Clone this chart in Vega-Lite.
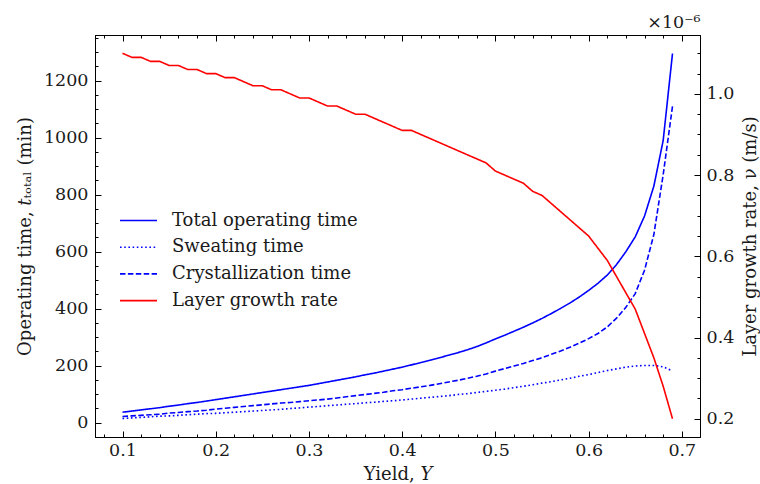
{
  "$schema": "https://vega.github.io/schema/vega-lite/v6.json",
  "width": 605,
  "height": 402,
  "autosize": "none",
  "padding": {"left": 95, "top": 35, "right": 60, "bottom": 47},
  "background": "white",
  "config": {
    "font": "DejaVu Serif",
    "view": {"stroke": "#000000", "strokeWidth": 1},
    "axis": {
      "domainColor": "#000000",
      "domainWidth": 1,
      "tickColor": "#000000",
      "tickWidth": 1,
      "grid": false,
      "labelFont": "DejaVu Serif",
      "labelFontSize": 17.5,
      "labelColor": "#1a1a1a",
      "titleFont": "DejaVu Serif",
      "titleFontSize": 18,
      "titleFontWeight": "normal",
      "titleColor": "#1a1a1a"
    },
    "legend": {"labelFont": "DejaVu Serif", "labelFontSize": 18, "labelColor": "#1a1a1a", "labelLimit": 400}
  },
  "datasets": {
    "times": [
      {"Y":0.10,"series":"Total operating time","t":37},{"Y":0.11,"series":"Total operating time","t":41},{"Y":0.12,"series":"Total operating time","t":45},{"Y":0.13,"series":"Total operating time","t":49},{"Y":0.14,"series":"Total operating time","t":53},{"Y":0.15,"series":"Total operating time","t":58},{"Y":0.16,"series":"Total operating time","t":62},{"Y":0.17,"series":"Total operating time","t":67},{"Y":0.18,"series":"Total operating time","t":71},{"Y":0.19,"series":"Total operating time","t":76},
      {"Y":0.20,"series":"Total operating time","t":81},{"Y":0.21,"series":"Total operating time","t":86},{"Y":0.22,"series":"Total operating time","t":91},{"Y":0.23,"series":"Total operating time","t":96},{"Y":0.24,"series":"Total operating time","t":101},{"Y":0.25,"series":"Total operating time","t":106},{"Y":0.26,"series":"Total operating time","t":111},{"Y":0.27,"series":"Total operating time","t":116},{"Y":0.28,"series":"Total operating time","t":121},{"Y":0.29,"series":"Total operating time","t":126},
      {"Y":0.30,"series":"Total operating time","t":131},{"Y":0.31,"series":"Total operating time","t":137},{"Y":0.32,"series":"Total operating time","t":143},{"Y":0.33,"series":"Total operating time","t":149},{"Y":0.34,"series":"Total operating time","t":155},{"Y":0.35,"series":"Total operating time","t":161},{"Y":0.36,"series":"Total operating time","t":168},{"Y":0.37,"series":"Total operating time","t":174},{"Y":0.38,"series":"Total operating time","t":181},{"Y":0.39,"series":"Total operating time","t":188},
      {"Y":0.40,"series":"Total operating time","t":195},{"Y":0.41,"series":"Total operating time","t":203},{"Y":0.42,"series":"Total operating time","t":211},{"Y":0.43,"series":"Total operating time","t":219},{"Y":0.44,"series":"Total operating time","t":228},{"Y":0.45,"series":"Total operating time","t":237},{"Y":0.46,"series":"Total operating time","t":246},{"Y":0.47,"series":"Total operating time","t":256},{"Y":0.48,"series":"Total operating time","t":267},{"Y":0.49,"series":"Total operating time","t":280},
      {"Y":0.50,"series":"Total operating time","t":294},{"Y":0.51,"series":"Total operating time","t":307},{"Y":0.52,"series":"Total operating time","t":321},{"Y":0.53,"series":"Total operating time","t":335},{"Y":0.54,"series":"Total operating time","t":350},{"Y":0.55,"series":"Total operating time","t":366},{"Y":0.56,"series":"Total operating time","t":383},{"Y":0.57,"series":"Total operating time","t":401},{"Y":0.58,"series":"Total operating time","t":420},{"Y":0.59,"series":"Total operating time","t":441},
      {"Y":0.60,"series":"Total operating time","t":464},{"Y":0.61,"series":"Total operating time","t":489},{"Y":0.62,"series":"Total operating time","t":518},{"Y":0.63,"series":"Total operating time","t":555},{"Y":0.64,"series":"Total operating time","t":600},{"Y":0.65,"series":"Total operating time","t":652},{"Y":0.66,"series":"Total operating time","t":725},{"Y":0.67,"series":"Total operating time","t":830},{"Y":0.68,"series":"Total operating time","t":990},{"Y":0.69,"series":"Total operating time","t":1295},
      {"Y":0.10,"series":"Sweating time","t":15},{"Y":0.11,"series":"Sweating time","t":17},{"Y":0.12,"series":"Sweating time","t":19},{"Y":0.13,"series":"Sweating time","t":21},{"Y":0.14,"series":"Sweating time","t":23},{"Y":0.15,"series":"Sweating time","t":24},{"Y":0.16,"series":"Sweating time","t":26},{"Y":0.17,"series":"Sweating time","t":28},{"Y":0.18,"series":"Sweating time","t":30},{"Y":0.19,"series":"Sweating time","t":32},
      {"Y":0.20,"series":"Sweating time","t":33},{"Y":0.21,"series":"Sweating time","t":35},{"Y":0.22,"series":"Sweating time","t":37},{"Y":0.23,"series":"Sweating time","t":39},{"Y":0.24,"series":"Sweating time","t":41},{"Y":0.25,"series":"Sweating time","t":43},{"Y":0.26,"series":"Sweating time","t":45},{"Y":0.27,"series":"Sweating time","t":47},{"Y":0.28,"series":"Sweating time","t":50},{"Y":0.29,"series":"Sweating time","t":52},
      {"Y":0.30,"series":"Sweating time","t":55},{"Y":0.31,"series":"Sweating time","t":57},{"Y":0.32,"series":"Sweating time","t":60},{"Y":0.33,"series":"Sweating time","t":62},{"Y":0.34,"series":"Sweating time","t":65},{"Y":0.35,"series":"Sweating time","t":67},{"Y":0.36,"series":"Sweating time","t":70},{"Y":0.37,"series":"Sweating time","t":72},{"Y":0.38,"series":"Sweating time","t":75},{"Y":0.39,"series":"Sweating time","t":77},
      {"Y":0.40,"series":"Sweating time","t":80},{"Y":0.41,"series":"Sweating time","t":83},{"Y":0.42,"series":"Sweating time","t":86},{"Y":0.43,"series":"Sweating time","t":89},{"Y":0.44,"series":"Sweating time","t":92},{"Y":0.45,"series":"Sweating time","t":95},{"Y":0.46,"series":"Sweating time","t":99},{"Y":0.47,"series":"Sweating time","t":102},{"Y":0.48,"series":"Sweating time","t":106},{"Y":0.49,"series":"Sweating time","t":110},
      {"Y":0.50,"series":"Sweating time","t":114},{"Y":0.51,"series":"Sweating time","t":118},{"Y":0.52,"series":"Sweating time","t":123},{"Y":0.53,"series":"Sweating time","t":128},{"Y":0.54,"series":"Sweating time","t":133},{"Y":0.55,"series":"Sweating time","t":139},{"Y":0.56,"series":"Sweating time","t":144},{"Y":0.57,"series":"Sweating time","t":150},{"Y":0.58,"series":"Sweating time","t":156},{"Y":0.59,"series":"Sweating time","t":163},
      {"Y":0.60,"series":"Sweating time","t":169},{"Y":0.61,"series":"Sweating time","t":176},{"Y":0.62,"series":"Sweating time","t":183},{"Y":0.63,"series":"Sweating time","t":189},{"Y":0.64,"series":"Sweating time","t":195},{"Y":0.65,"series":"Sweating time","t":199},{"Y":0.66,"series":"Sweating time","t":201},{"Y":0.67,"series":"Sweating time","t":201},{"Y":0.68,"series":"Sweating time","t":196},{"Y":0.69,"series":"Sweating time","t":182},
      {"Y":0.10,"series":"Crystallization time","t":22},{"Y":0.11,"series":"Crystallization time","t":24},{"Y":0.12,"series":"Crystallization time","t":26},{"Y":0.13,"series":"Crystallization time","t":28},{"Y":0.14,"series":"Crystallization time","t":30},{"Y":0.15,"series":"Crystallization time","t":34},{"Y":0.16,"series":"Crystallization time","t":36},{"Y":0.17,"series":"Crystallization time","t":39},{"Y":0.18,"series":"Crystallization time","t":41},{"Y":0.19,"series":"Crystallization time","t":44},
      {"Y":0.20,"series":"Crystallization time","t":48},{"Y":0.21,"series":"Crystallization time","t":51},{"Y":0.22,"series":"Crystallization time","t":54},{"Y":0.23,"series":"Crystallization time","t":57},{"Y":0.24,"series":"Crystallization time","t":60},{"Y":0.25,"series":"Crystallization time","t":63},{"Y":0.26,"series":"Crystallization time","t":66},{"Y":0.27,"series":"Crystallization time","t":69},{"Y":0.28,"series":"Crystallization time","t":71},{"Y":0.29,"series":"Crystallization time","t":74},
      {"Y":0.30,"series":"Crystallization time","t":77},{"Y":0.31,"series":"Crystallization time","t":80},{"Y":0.32,"series":"Crystallization time","t":83},{"Y":0.33,"series":"Crystallization time","t":87},{"Y":0.34,"series":"Crystallization time","t":91},{"Y":0.35,"series":"Crystallization time","t":95},{"Y":0.36,"series":"Crystallization time","t":99},{"Y":0.37,"series":"Crystallization time","t":103},{"Y":0.38,"series":"Crystallization time","t":107},{"Y":0.39,"series":"Crystallization time","t":112},
      {"Y":0.40,"series":"Crystallization time","t":116},{"Y":0.41,"series":"Crystallization time","t":121},{"Y":0.42,"series":"Crystallization time","t":126},{"Y":0.43,"series":"Crystallization time","t":131},{"Y":0.44,"series":"Crystallization time","t":137},{"Y":0.45,"series":"Crystallization time","t":143},{"Y":0.46,"series":"Crystallization time","t":149},{"Y":0.47,"series":"Crystallization time","t":156},{"Y":0.48,"series":"Crystallization time","t":163},{"Y":0.49,"series":"Crystallization time","t":171},
      {"Y":0.50,"series":"Crystallization time","t":181},{"Y":0.51,"series":"Crystallization time","t":190},{"Y":0.52,"series":"Crystallization time","t":199},{"Y":0.53,"series":"Crystallization time","t":208},{"Y":0.54,"series":"Crystallization time","t":218},{"Y":0.55,"series":"Crystallization time","t":228},{"Y":0.56,"series":"Crystallization time","t":240},{"Y":0.57,"series":"Crystallization time","t":252},{"Y":0.58,"series":"Crystallization time","t":265},{"Y":0.59,"series":"Crystallization time","t":279},
      {"Y":0.60,"series":"Crystallization time","t":295},{"Y":0.61,"series":"Crystallization time","t":313},{"Y":0.62,"series":"Crystallization time","t":336},{"Y":0.63,"series":"Crystallization time","t":367},{"Y":0.64,"series":"Crystallization time","t":405},{"Y":0.65,"series":"Crystallization time","t":453},{"Y":0.66,"series":"Crystallization time","t":535},{"Y":0.67,"series":"Crystallization time","t":660},{"Y":0.68,"series":"Crystallization time","t":870},{"Y":0.69,"series":"Crystallization time","t":1110}
    ],
    "rate": [
      {"Y":0.10,"series":"Layer growth rate","v":1.10},{"Y":0.11,"series":"Layer growth rate","v":1.09},{"Y":0.12,"series":"Layer growth rate","v":1.09},{"Y":0.13,"series":"Layer growth rate","v":1.08},{"Y":0.14,"series":"Layer growth rate","v":1.08},{"Y":0.15,"series":"Layer growth rate","v":1.07},{"Y":0.16,"series":"Layer growth rate","v":1.07},{"Y":0.17,"series":"Layer growth rate","v":1.06},{"Y":0.18,"series":"Layer growth rate","v":1.06},{"Y":0.19,"series":"Layer growth rate","v":1.05},
      {"Y":0.20,"series":"Layer growth rate","v":1.05},{"Y":0.21,"series":"Layer growth rate","v":1.04},{"Y":0.22,"series":"Layer growth rate","v":1.04},{"Y":0.23,"series":"Layer growth rate","v":1.03},{"Y":0.24,"series":"Layer growth rate","v":1.02},{"Y":0.25,"series":"Layer growth rate","v":1.02},{"Y":0.26,"series":"Layer growth rate","v":1.01},{"Y":0.27,"series":"Layer growth rate","v":1.01},{"Y":0.28,"series":"Layer growth rate","v":1.00},{"Y":0.29,"series":"Layer growth rate","v":0.99},
      {"Y":0.30,"series":"Layer growth rate","v":0.99},{"Y":0.31,"series":"Layer growth rate","v":0.98},{"Y":0.32,"series":"Layer growth rate","v":0.97},{"Y":0.33,"series":"Layer growth rate","v":0.97},{"Y":0.34,"series":"Layer growth rate","v":0.96},{"Y":0.35,"series":"Layer growth rate","v":0.95},{"Y":0.36,"series":"Layer growth rate","v":0.95},{"Y":0.37,"series":"Layer growth rate","v":0.94},{"Y":0.38,"series":"Layer growth rate","v":0.93},{"Y":0.39,"series":"Layer growth rate","v":0.92},
      {"Y":0.40,"series":"Layer growth rate","v":0.91},{"Y":0.41,"series":"Layer growth rate","v":0.91},{"Y":0.42,"series":"Layer growth rate","v":0.90},{"Y":0.43,"series":"Layer growth rate","v":0.89},{"Y":0.44,"series":"Layer growth rate","v":0.88},{"Y":0.45,"series":"Layer growth rate","v":0.87},{"Y":0.46,"series":"Layer growth rate","v":0.86},{"Y":0.47,"series":"Layer growth rate","v":0.85},{"Y":0.48,"series":"Layer growth rate","v":0.84},{"Y":0.49,"series":"Layer growth rate","v":0.83},
      {"Y":0.50,"series":"Layer growth rate","v":0.81},{"Y":0.51,"series":"Layer growth rate","v":0.80},{"Y":0.52,"series":"Layer growth rate","v":0.79},{"Y":0.53,"series":"Layer growth rate","v":0.78},{"Y":0.54,"series":"Layer growth rate","v":0.76},{"Y":0.55,"series":"Layer growth rate","v":0.75},{"Y":0.56,"series":"Layer growth rate","v":0.73},{"Y":0.57,"series":"Layer growth rate","v":0.71},{"Y":0.58,"series":"Layer growth rate","v":0.69},{"Y":0.59,"series":"Layer growth rate","v":0.67},
      {"Y":0.60,"series":"Layer growth rate","v":0.65},{"Y":0.61,"series":"Layer growth rate","v":0.62},{"Y":0.62,"series":"Layer growth rate","v":0.59},{"Y":0.63,"series":"Layer growth rate","v":0.55},{"Y":0.64,"series":"Layer growth rate","v":0.51},{"Y":0.65,"series":"Layer growth rate","v":0.47},{"Y":0.66,"series":"Layer growth rate","v":0.41},{"Y":0.67,"series":"Layer growth rate","v":0.35},{"Y":0.68,"series":"Layer growth rate","v":0.28},{"Y":0.69,"series":"Layer growth rate","v":0.20}
    ]
  },
  "layer": [
    {
      "data": {"name": "times"},
      "mark": {"type": "line", "strokeWidth": 1.6},
      "encoding": {
        "x": {
          "field": "Y", "type": "quantitative",
          "scale": {"domain": [0.0705, 0.7195], "nice": false, "zero": false},
          "axis": {
            "orient": "bottom",
            "title": "Yield, 𝑌",
            "titlePadding": 4,
            "values": [0.08,0.1,0.12,0.14,0.16,0.18,0.2,0.22,0.24,0.26,0.28,0.3,0.32,0.34,0.36,0.38,0.4,0.42,0.44,0.46,0.48,0.5,0.52,0.54,0.56,0.58,0.6,0.62,0.64,0.66,0.68,0.7],
            "labelExpr": "abs(round(datum.value*100) % 10) == 0 ? format(datum.value, '.1f') : ''",
            "tickSize": {"condition": {"test": "abs(round(datum.value*100) % 10) == 0", "value": -6}, "value": -3},
            "labelPadding": 10,
            "labelFlush": false,
            "labelOverlap": false
          }
        },
        "y": {
          "field": "t", "type": "quantitative",
          "scale": {"domain": [-50, 1360], "nice": false, "zero": false},
          "axis": {
            "orient": "left",
            "title": "Operating time, 𝑡ₜₒₜₐₗ (min)",
            "titlePadding": 9,
            "values": [0,50,100,150,200,250,300,350,400,450,500,550,600,650,700,750,800,850,900,950,1000,1050,1100,1150,1200,1250,1300,1350],
            "labelExpr": "datum.value % 200 == 0 ? format(datum.value, 'd') : ''",
            "tickSize": {"condition": {"test": "datum.value % 200 == 0", "value": -6}, "value": -3},
            "labelPadding": 13,
            "labelFlush": false,
            "labelOverlap": false
          }
        },
        "color": {
          "field": "series", "type": "nominal",
          "scale": {"domain": ["Total operating time", "Sweating time", "Crystallization time", "Layer growth rate"], "range": ["#0000ff", "#0000ff", "#0000ff", "#ff0000"]},
          "legend": {"orient": "none", "legendX": 24, "legendY": 175.5, "title": null, "symbolType": "stroke", "symbolSize": 1369, "symbolStrokeWidth": 1.6, "labelOffset": 14, "clipHeight": 20, "rowPadding": 6.7, "padding": 0}
        },
        "strokeDash": {
          "field": "series", "type": "nominal",
          "scale": {"domain": ["Total operating time", "Sweating time", "Crystallization time", "Layer growth rate"], "range": [[1, 0], [1.6, 2.6], [5.5, 2.4], [1, 0]]},
          "legend": {"orient": "none", "legendX": 24, "legendY": 175.5, "title": null, "symbolType": "stroke", "symbolSize": 1369, "symbolStrokeWidth": 1.6, "labelOffset": 14, "clipHeight": 20, "rowPadding": 6.7, "padding": 0}
        }
      }
    },
    {
      "data": {"name": "rate"},
      "mark": {"type": "line", "strokeWidth": 1.6},
      "encoding": {
        "x": {
          "field": "Y", "type": "quantitative",
          "scale": {"domain": [0.0705, 0.7195], "nice": false, "zero": false},
          "axis": {
            "orient": "top",
            "title": "×10⁻⁶",
            "titleFontSize": 17.5,
            "titleAnchor": "end",
            "titleAlign": "right",
            "titlePadding": 3,
            "labels": false,
            "values": [0.08,0.1,0.12,0.14,0.16,0.18,0.2,0.22,0.24,0.26,0.28,0.3,0.32,0.34,0.36,0.38,0.4,0.42,0.44,0.46,0.48,0.5,0.52,0.54,0.56,0.58,0.6,0.62,0.64,0.66,0.68,0.7],
            "tickSize": {"condition": {"test": "abs(round(datum.value*100) % 10) == 0", "value": -6}, "value": -3}
          }
        },
        "y": {
          "field": "v", "type": "quantitative",
          "scale": {"domain": [0.155, 1.145], "nice": false, "zero": false},
          "axis": {
            "orient": "right",
            "title": "Layer growth rate, ν (m/s)",
            "titleAngle": -90,
            "titlePadding": 26,
            "values": [0.2,0.25,0.3,0.35,0.4,0.45,0.5,0.55,0.6,0.65,0.7,0.75,0.8,0.85,0.9,0.95,1.0,1.05,1.1],
            "labelExpr": "abs(round(datum.value*100) % 20) == 0 ? format(datum.value, '.1f') : ''",
            "tickSize": {"condition": {"test": "abs(round(datum.value*100) % 20) == 0", "value": -6}, "value": -3},
            "labelPadding": 12,
            "labelFlush": false,
            "labelOverlap": false
          }
        },
        "color": {"field": "series", "type": "nominal"},
        "strokeDash": {"field": "series", "type": "nominal"}
      }
    }
  ],
  "resolve": {"scale": {"y": "independent"}, "axis": {"x": "independent", "y": "independent"}}
}
